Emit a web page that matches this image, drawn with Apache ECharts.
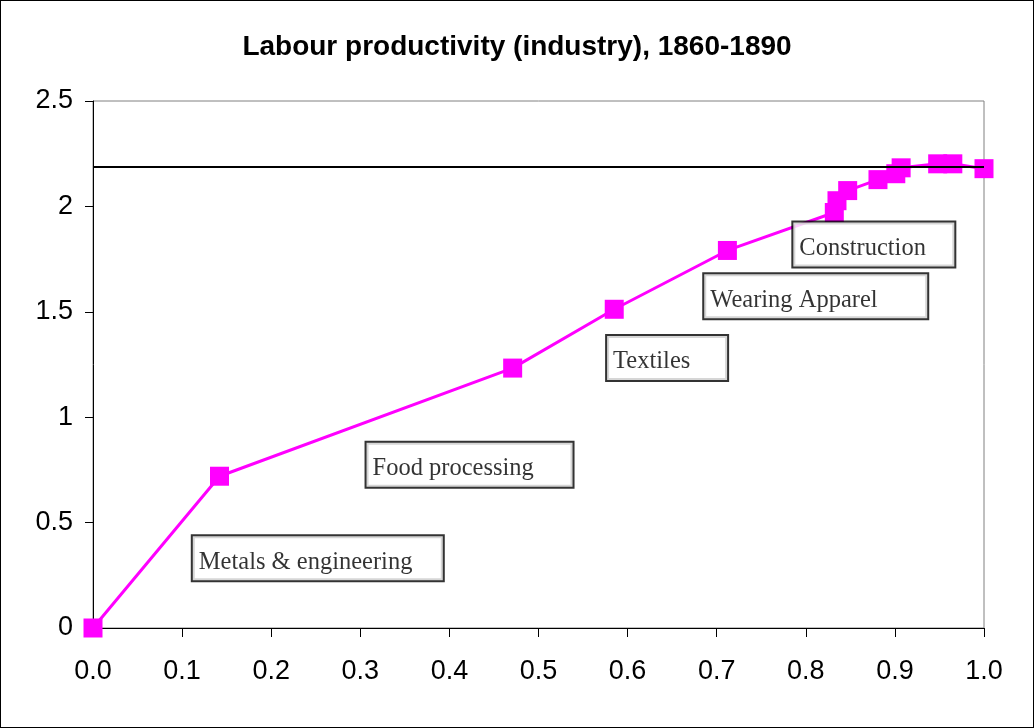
<!DOCTYPE html>
<html>
<head>
<meta charset="utf-8">
<script src="https://cdn.jsdelivr.net/npm/echarts@6/dist/echarts.min.js"></script>
<style>
  html, body { margin: 0; padding: 0; background: #fff; }
  #chart { width: 1034px; height: 728px; box-sizing: border-box; border: 1px solid #000; }
</style>
</head>
<body>
<div id="chart"></div>
<script>
// cumulative employment share (x) vs labour productivity (y)
const shareX = [0, 0.142, 0.471, 0.585, 0.712, 0.832, 0.835, 0.847, 0.881, 0.901, 0.907, 0.948, 0.965, 1.0]
const productivity = [0, 0.72, 1.233, 1.512, 1.791, 1.971, 2.027, 2.075, 2.127, 2.155, 2.183, 2.202, 2.202, 2.179]
const averageLevel = 2.188

// sector labels, anchored at left-middle of each box (data coords)
const sectorNames = ['Metals & engineering', 'Food processing', 'Textiles', 'Wearing Apparel', 'Construction']
const sectorLabelX = [0.112, 0.307, 0.577, 0.686, 0.786]
const sectorLabelY = [0.331, 0.775, 1.281, 1.574, 1.819]

const chart = echarts.init(document.getElementById('chart'))

const boxWidths = [250, 206, 120, 223, 161]

chart.setOption({
  animation: false,
  title: {
    text: 'Labour productivity (industry), 1860-1890',
    left: 'center',
    top: 27,
    textStyle: {
      fontFamily: 'Liberation Sans, Arial',
      fontWeight: 'bold',
      fontSize: 28,
      color: '#000'
    }
  },
  grid: {
    left: 92,
    right: 49,
    top: 100,
    bottom: 99,
    show: true,
    borderColor: '#808080',
    borderWidth: 1,
    backgroundColor: '#fff'
  },
  xAxis: {
    type: 'value',
    min: 0,
    max: 1,
    interval: 0.1,
    axisLine: { lineStyle: { color: '#000', width: 1 } },
    axisTick: { show: true, length: 9, lineStyle: { color: '#000' } },
    splitLine: { show: false },
    axisLabel: {
      margin: 30,
      fontFamily: 'Liberation Sans, Arial',
      fontSize: 27,
      color: '#000',
      formatter: v => v.toFixed(1)
    }
  },
  yAxis: {
    type: 'value',
    min: 0,
    max: 2.5,
    interval: 0.5,
    axisLine: { show: true, lineStyle: { color: '#000', width: 1 } },
    axisTick: { show: true, length: 8, lineStyle: { color: '#000' } },
    splitLine: { show: false },
    axisLabel: {
      margin: 20,
      fontFamily: 'Liberation Sans, Arial',
      fontSize: 27,
      color: '#000'
    }
  },
  series: [
    {
      type: 'line',
      data: shareX.map((x, i) => [x, productivity[i]]),
      symbol: 'rect',
      symbolSize: 19,
      itemStyle: { color: '#ff00ff' },
      lineStyle: { color: '#ff00ff', width: 3 },
      z: 3,
      markLine: {
        silent: true,
        symbol: 'none',
        label: { show: false },
        lineStyle: { color: '#000', width: 2, type: 'solid' },
        data: [{ yAxis: averageLevel }]
      }
    },
    {
      type: 'scatter',
      symbolSize: 0,
      z: 5,
      data: sectorNames.map((name, i) => ({
        name: name,
        value: [sectorLabelX[i], sectorLabelY[i]],
        label: { width: boxWidths[i] - 12 }
      })),
      label: {
        show: true,
        position: [0, 0],
        align: 'left',
        verticalAlign: 'middle',
        formatter: p => '{t|' + p.name + '}',
        backgroundColor: '#fff',
        borderColor: '#000',
        borderWidth: 2,
        padding: [12, 6, 4, 6],
        rich: {
          t: {
            fontFamily: 'Liberation Serif, Times New Roman',
            fontSize: 24.5,
            color: '#000',
            lineHeight: 28
          }
        }
      }
    }
  ]
})
</script>
</body>
</html>
